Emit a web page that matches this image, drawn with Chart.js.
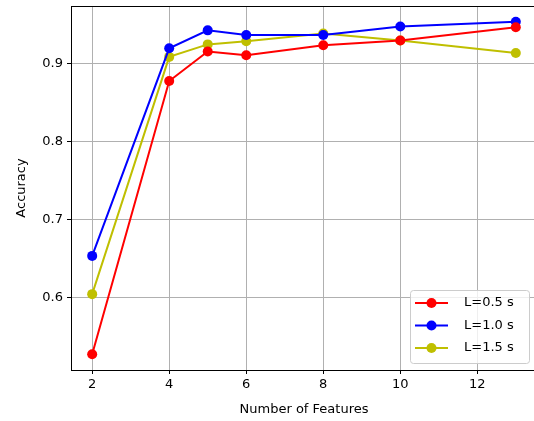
<!DOCTYPE html>
<html>
<head>
<meta charset="utf-8">
<script src="https://cdn.jsdelivr.net/npm/chart.js@4"></script>
<style>
  html, body { margin: 0; padding: 0; background: #fff; overflow: hidden; }
  #wrap { width: 542px; height: 421px; }
</style>
</head>
<body>
<div id="wrap"><canvas id="myChart" width="542" height="421"></canvas></div>
<script>
'use strict';

// data
let features = [2, 4, 5, 6, 8, 10, 13];
let accShort = [0.527, 0.877, 0.915, 0.910, 0.923, 0.929, 0.946];
let accMid = [0.653, 0.919, 0.942, 0.936, 0.936, 0.947, 0.953];
let accLong = [0.604, 0.908, 0.924, 0.928, 0.938, 0.929, 0.913];
let seriesNames = ['L=0.5 s', 'L=1.0 s', 'L=1.5 s'];
let seriesColors = ['#ff0000', '#0000ff', '#bfbf00'];
let xTicks = [2, 4, 6, 8, 10, 12];
let yTicks = [0.6, 0.7, 0.8, 0.9];

const FONT = 'DejaVu Sans, sans-serif';

function makeSet(label, values, color) {
  return {
    label: label,
    data: features.map((x, i) => ({ x: x, y: values[i] })),
    borderColor: color,
    backgroundColor: color,
    borderWidth: 2,
    pointRadius: 5,
    pointHoverRadius: 5,
    pointBorderWidth: 0,
    tension: 0
  };
}

// top spine + legend box inside the plot (matplotlib style)
let framePlugin = {
  id: 'frame',
  afterDraw(chart) {
    let ctx = chart.ctx;
    let area = chart.chartArea;
    ctx.save();
    ctx.strokeStyle = '#000';
    ctx.lineWidth = 1;
    ctx.beginPath();
    ctx.moveTo(area.left, Math.round(area.top) + 0.5);
    ctx.lineTo(area.right, Math.round(area.top) + 0.5);
    ctx.stroke();

    // legend
    let bx = 410.5, by = 290.5, bw = 119, bh = 73;
    ctx.beginPath();
    ctx.roundRect(bx, by, bw, bh, 3);
    ctx.fillStyle = 'rgba(255,255,255,0.8)';
    ctx.fill();
    ctx.strokeStyle = '#cccccc';
    ctx.stroke();
    ctx.font = '13px ' + FONT;
    ctx.textBaseline = 'middle';
    ctx.textAlign = 'left';
    chart.data.datasets.forEach((ds, i) => {
      let yy = 303 + i * 22.5;
      ctx.strokeStyle = ds.borderColor;
      ctx.lineWidth = 2;
      ctx.beginPath();
      ctx.moveTo(415, yy);
      ctx.lineTo(448, yy);
      ctx.stroke();
      ctx.fillStyle = ds.borderColor;
      ctx.beginPath();
      ctx.arc(431.5, yy, 5, 0, Math.PI * 2);
      ctx.fill();
      ctx.fillStyle = '#000';
      ctx.fillText(ds.label, 464, yy);
    });
    ctx.restore();
  }
};

var ctx = document.getElementById('myChart').getContext('2d');
var myChart = new Chart(ctx, {
  type: 'line',
  data: {
    datasets: [
      makeSet(seriesNames[0], accShort, seriesColors[0]),
      makeSet(seriesNames[1], accMid, seriesColors[1]),
      makeSet(seriesNames[2], accLong, seriesColors[2])
    ]
  },
  options: {
    responsive: false,
    animation: false,
    layout: { padding: { top: 6, right: 2, left: 0, bottom: 0 } },
    plugins: {
      legend: { display: false },
      tooltip: { enabled: false }
    },
    scales: {
      x: {
        type: 'linear',
        min: 1.45,
        max: 13.55,
        afterBuildTicks(axis) { axis.ticks = xTicks.map(v => ({ value: v })); },
        afterFit(axis) {
          axis.height = 51;
          axis.paddingLeft = 0;
          axis.paddingRight = 0;
        },
        grid: { color: '#b0b0b0', lineWidth: 1, tickColor: '#000', tickLength: 4 },
        border: { color: '#000', width: 1 },
        ticks: { color: '#000', font: { family: FONT, size: 13 }, padding: 3, maxRotation: 0 },
        title: { display: true, text: 'Number of Features', color: '#000', font: { family: FONT, size: 13 }, padding: { top: 0, bottom: 4 } }
      },
      y: {
        min: 0.5068,
        max: 0.9732,
        afterBuildTicks(axis) { axis.ticks = yTicks.map(v => ({ value: v })); },
        afterFit(axis) {
          axis.width = 71;
          axis.paddingTop = 0;
          axis.paddingBottom = 0;
        },
        grid: { color: '#b0b0b0', lineWidth: 1, tickColor: '#000', tickLength: 4 },
        border: { color: '#000', width: 1 },
        ticks: { color: '#000', font: { family: FONT, size: 13 }, padding: 4, callback: v => v.toFixed(1) },
        title: { display: true, text: 'Accuracy', color: '#000', font: { family: FONT, size: 13 }, padding: { top: 14, bottom: 0 } }
      }
    }
  },
  plugins: [framePlugin]
});
</script>
</body>
</html>
